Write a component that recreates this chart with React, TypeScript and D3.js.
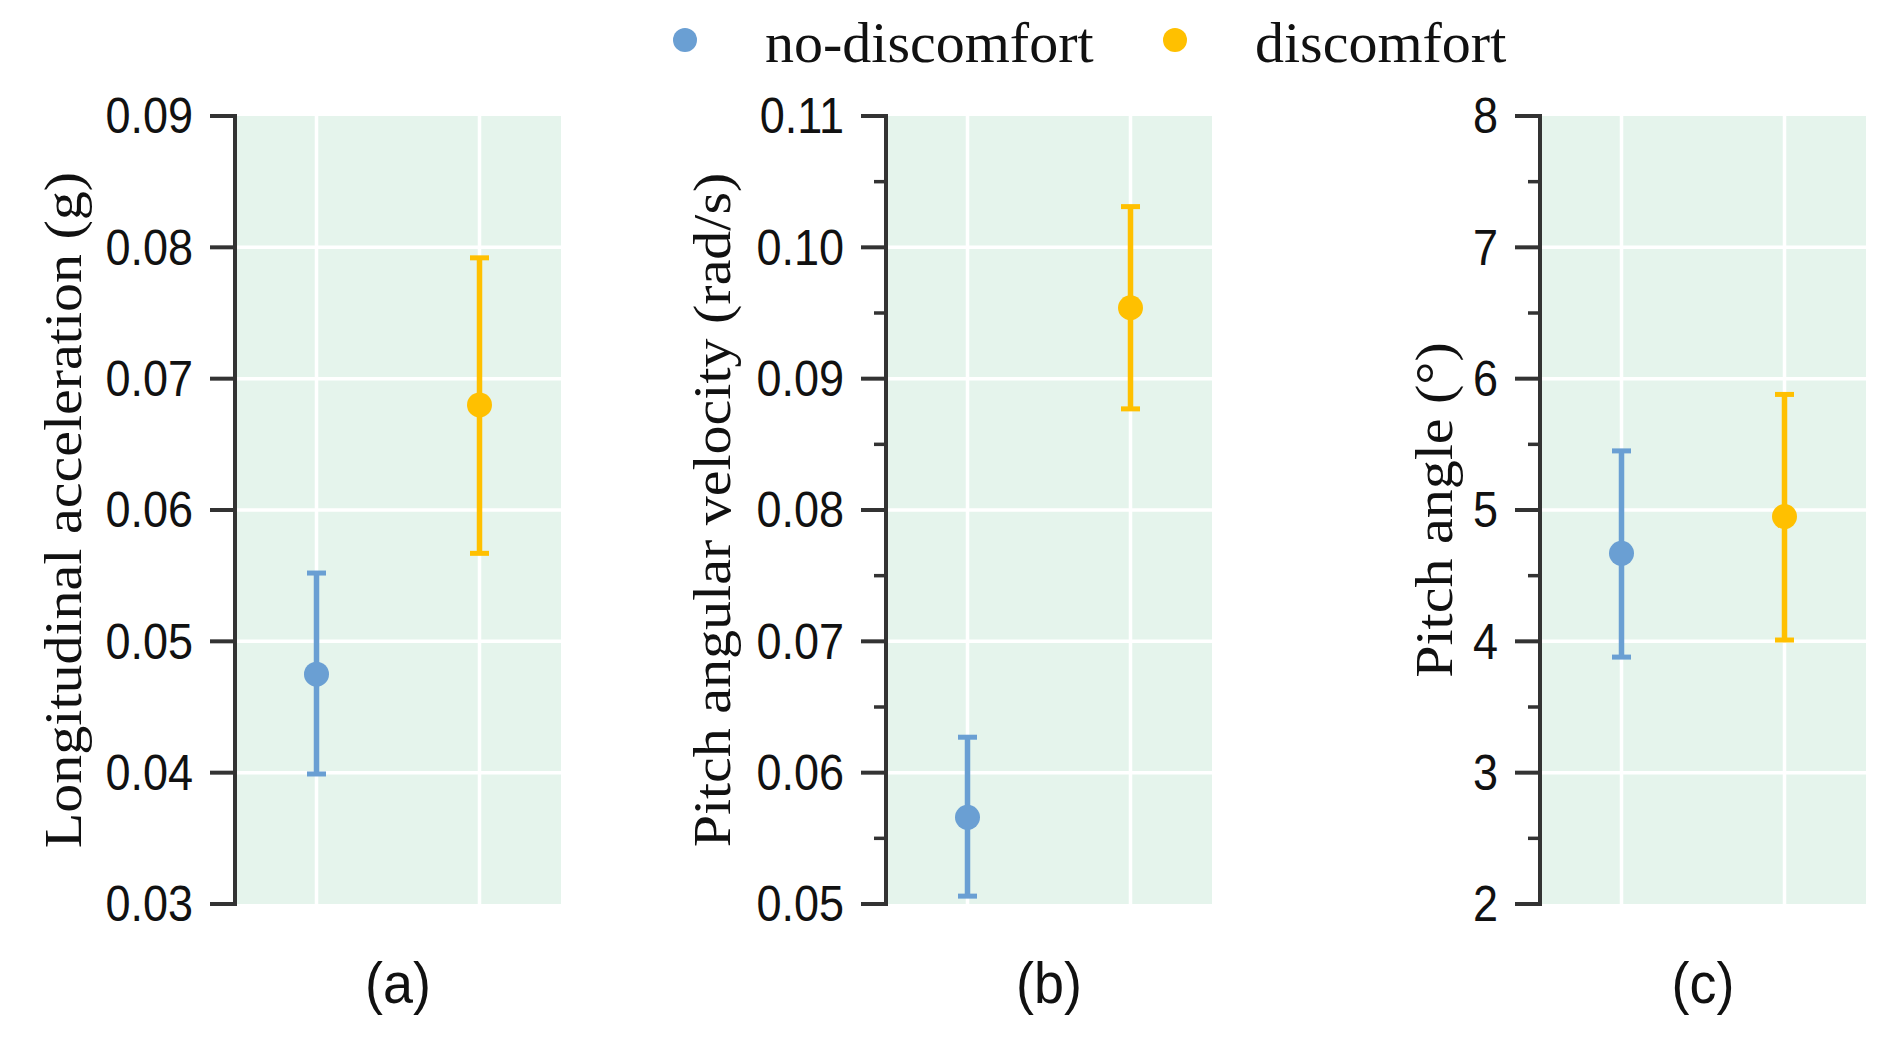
import React from "react";
import * as d3 from "d3";

// ---------- data ----------
const groups = ["no-discomfort", "discomfort"];
const groupColors = ["#6a9fd3", "#ffc000"];

const accelMean = [0.0475, 0.068];
const accelLow = [0.0399, 0.0567];
const accelHigh = [0.0552, 0.0792];
const accelTicks = [0.03, 0.04, 0.05, 0.06, 0.07, 0.08, 0.09];

const velMean = [0.0566, 0.0954];
const velLow = [0.0506, 0.0877];
const velHigh = [0.0627, 0.1031];
const velTicks = [0.05, 0.06, 0.07, 0.08, 0.09, 0.1, 0.11];
const velMinor = [0.055, 0.065, 0.075, 0.085, 0.095, 0.105];

const angleMean = [4.67, 4.95];
const angleLow = [3.88, 4.01];
const angleHigh = [5.45, 5.88];
const angleTicks = [2, 3, 4, 5, 6, 7, 8];
const angleMinor = [2.5, 3.5, 4.5, 5.5, 6.5, 7.5];

const panelLabels = ["(a)", "(b)", "(c)"];
const yTitles = [
  "Longitudinal acceleration (g)",
  "Pitch angular velocity (rad/s)",
  "Pitch angle (°)",
];

const W = 1898;
const H = 1054;
const TOP = 116;
const BOTTOM = 904;
const SERIF = "'Liberation Serif', 'Times New Roman', serif";
const SANS = "'Liberation Sans', Arial, sans-serif";

interface PanelProps {
  x0: number;
  x1: number;
  mean: number[];
  low: number[];
  high: number[];
  ticks: number[];
  minor: number[];
  fmt: (v: number) => string;
  title: string;
  titleX: number;
  label: string;
}

function Panel(p: PanelProps) {
  const y = d3
    .scaleLinear()
    .domain([p.ticks[0], p.ticks[p.ticks.length - 1]])
    .range([BOTTOM, TOP]);
  const x = d3.scalePoint<string>().domain(groups).range([p.x0, p.x1]).padding(0.5);
  const cx = (p.x0 + p.x1) / 2;
  return (
    <g>
      <rect x={p.x0} y={TOP} width={p.x1 - p.x0} height={BOTTOM - TOP} fill="#e5f4ec" />
      {p.ticks.slice(1, -1).map((t) => (
        <line key={"h" + t} x1={p.x0} x2={p.x1} y1={y(t)} y2={y(t)} stroke="#fff" strokeWidth={3.5} />
      ))}
      {groups.map((g) => (
        <line key={"v" + g} x1={x(g)} x2={x(g)} y1={TOP} y2={BOTTOM} stroke="#fff" strokeWidth={3.5} />
      ))}
      {/* axis */}
      <line x1={p.x0} x2={p.x0} y1={TOP - 2} y2={BOTTOM + 2} stroke="#333" strokeWidth={4} />
      {p.ticks.map((t) => (
        <line key={"t" + t} x1={p.x0 - 25} x2={p.x0} y1={y(t)} y2={y(t)} stroke="#333" strokeWidth={4} />
      ))}
      {p.minor.map((t) => (
        <line key={"m" + t} x1={p.x0 - 12} x2={p.x0} y1={y(t)} y2={y(t)} stroke="#333" strokeWidth={3.5} />
      ))}
      {p.ticks.map((t) => (
        <text
          key={"l" + t}
          transform={`translate(${p.x0 - 42},${y(t)}) scale(0.9,1)`}
          textAnchor="end"
          dominantBaseline="central"
          fontFamily={SANS}
          fontSize={50}
          fill="#111"
        >
          {p.fmt(t)}
        </text>
      ))}
      <text
        transform={`translate(${p.titleX},${(TOP + BOTTOM) / 2}) rotate(-90) scale(1,0.92)`}
        textAnchor="middle"
        dominantBaseline="central"
        fontFamily={SERIF}
        fontSize={58}
        fill="#111"
      >
        {p.title}
      </text>
      {/* error bars */}
      {groups.map((g, i) => {
        const gx = x(g) as number;
        return (
          <g key={"e" + g} stroke={groupColors[i]} fill={groupColors[i]}>
            <line x1={gx} x2={gx} y1={y(p.low[i])} y2={y(p.high[i])} strokeWidth={5.5} />
            <line x1={gx - 9.5} x2={gx + 9.5} y1={y(p.high[i])} y2={y(p.high[i])} strokeWidth={5} />
            <line x1={gx - 9.5} x2={gx + 9.5} y1={y(p.low[i])} y2={y(p.low[i])} strokeWidth={5} />
            <circle cx={gx} cy={y(p.mean[i])} r={12.5} stroke="none" />
          </g>
        );
      })}
      <text
        transform={`translate(${cx},1003) scale(0.93,1)`}
        textAnchor="middle"
        fontFamily={SANS}
        fontSize={58}
        fill="#111"
      >
        {p.label}
      </text>
    </g>
  );
}

export default function App() {
  const f2 = d3.format(".2f");
  const f0 = d3.format("d");
  const legendX = [685, 1175];
  return (
    <svg
      width={W}
      height={H}
      viewBox={`0 0 ${W} ${H}`}
      style={{ position: "absolute", left: 0, top: 0, background: "#fff" }}
    >
      <rect width={W} height={H} fill="#fff" />
      {groups.map((g, i) => (
        <g key={g}>
          <circle cx={legendX[i]} cy={40} r={12} fill={groupColors[i]} />
          <text x={legendX[i] + 80} y={62} fontFamily={SERIF} fontSize={58} fill="#111">
            {g}
          </text>
        </g>
      ))}
      <Panel
        x0={235}
        x1={561}
        mean={accelMean}
        low={accelLow}
        high={accelHigh}
        ticks={accelTicks}
        minor={[]}
        fmt={f2}
        title={yTitles[0]}
        titleX={63}
        label={panelLabels[0]}
      />
      <Panel
        x0={886}
        x1={1212}
        mean={velMean}
        low={velLow}
        high={velHigh}
        ticks={velTicks}
        minor={velMinor}
        fmt={f2}
        title={yTitles[1]}
        titleX={712}
        label={panelLabels[1]}
      />
      <Panel
        x0={1540}
        x1={1866}
        mean={angleMean}
        low={angleLow}
        high={angleHigh}
        ticks={angleTicks}
        minor={angleMinor}
        fmt={f0}
        title={yTitles[2]}
        titleX={1434}
        label={panelLabels[2]}
      />
    </svg>
  );
}
